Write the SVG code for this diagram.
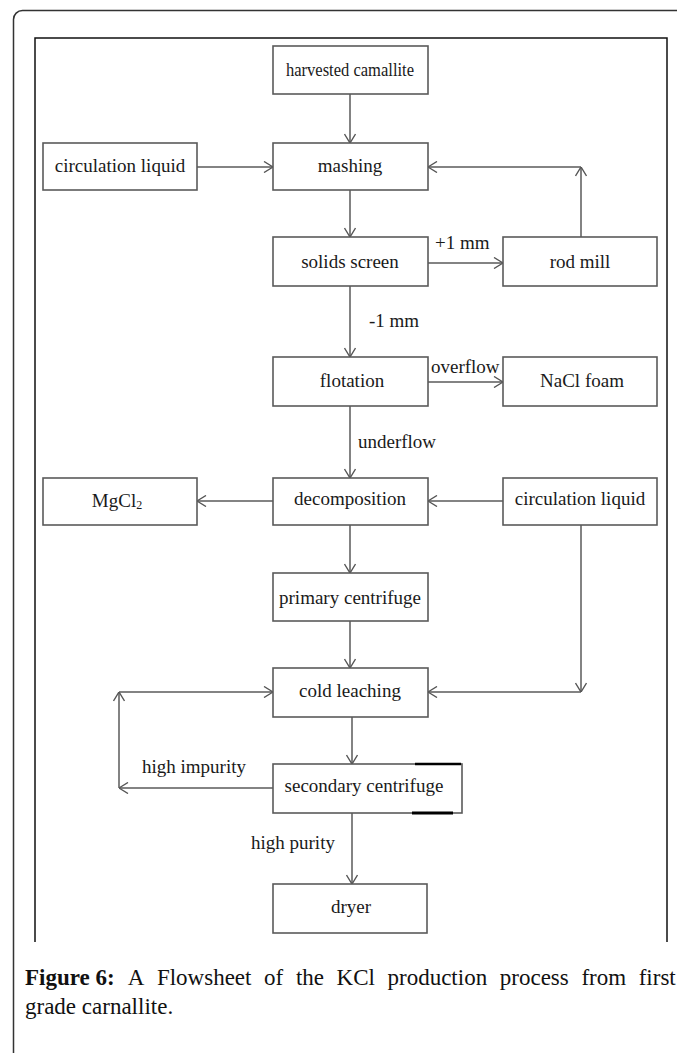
<svg xmlns="http://www.w3.org/2000/svg" width="677" height="1053" viewBox="0 0 677 1053">
<defs>
<marker id="a" viewBox="0 0 10 12" refX="10" refY="6" markerWidth="10" markerHeight="12" orient="auto" markerUnits="userSpaceOnUse">
<path d="M1,0.5 L10,6 L1,11.5" fill="none" stroke="#555" stroke-width="1.4"/>
</marker>
<style>
.box{fill:#fff;stroke:#5a5a5a;stroke-width:1.6}
.t{font-family:"Liberation Serif","Times New Roman",serif;font-size:19px;fill:#1a1a1a;text-anchor:middle}
.l{font-family:"Liberation Serif","Times New Roman",serif;font-size:19px;fill:#1a1a1a}
.c{fill:none;stroke:#5a5a5a;stroke-width:1.5;marker-end:url(#a)}
.cap{font-family:"Liberation Serif","Times New Roman",serif;font-size:23px;fill:#111}
</style>
</defs>
<rect width="677" height="1053" fill="#fff"/>
<rect x="13.5" y="10.5" width="720" height="1100" rx="9" fill="none" stroke="#333" stroke-width="1.5"/>
<path d="M35,942 V38 H667 V942" fill="none" stroke="#111" stroke-width="1.5"/>

<g id="connectors">
<line class="c" x1="350" y1="94" x2="350" y2="143"/>
<line class="c" x1="197" y1="167" x2="273" y2="167"/>
<line class="c" x1="581" y1="237" x2="581" y2="167"/>
<line class="c" x1="581" y1="167" x2="428" y2="167"/>
<line class="c" x1="350" y1="190" x2="350" y2="237"/>
<line class="c" x1="428" y1="263" x2="503" y2="263"/>
<line class="c" x1="350" y1="286" x2="350" y2="357"/>
<line class="c" x1="428" y1="382" x2="503" y2="382"/>
<line class="c" x1="350" y1="406" x2="350" y2="478"/>
<line class="c" x1="273" y1="501" x2="197" y2="501"/>
<line class="c" x1="503" y1="501" x2="428" y2="501"/>
<line class="c" x1="350" y1="525" x2="350" y2="573"/>
<line class="c" x1="350" y1="621" x2="350" y2="668"/>
<line class="c" x1="581" y1="525" x2="581" y2="692"/>
<line class="c" x1="581" y1="692" x2="428" y2="692"/>
<line class="c" x1="352" y1="717" x2="352" y2="764"/>
<line class="c" x1="273" y1="788" x2="119" y2="788"/>
<line class="c" x1="119" y1="788" x2="119" y2="692"/>
<line class="c" x1="119" y1="692" x2="273" y2="692"/>
<line class="c" x1="352" y1="813" x2="352" y2="884"/>
<text class="l" x="435" y="249">+1 mm</text>
<text class="l" x="369" y="327">-1 mm</text>
<text class="l" x="431" y="373">overflow</text>
<text class="l" x="358" y="448">underflow</text>
<text class="l" x="142" y="773">high impurity</text>
<text class="l" x="251" y="849">high purity</text>
</g>

<g id="harvested"><rect class="box" x="273" y="46" width="155" height="48"/><text class="t" x="350" y="76" style="font-size:18px" textLength="128" lengthAdjust="spacingAndGlyphs">harvested camallite</text></g>
<g id="circ1"><rect class="box" x="43" y="143" width="154" height="47"/><text class="t" x="120" y="172">circulation liquid</text></g>
<g id="mashing"><rect class="box" x="273" y="143" width="155" height="47"/><text class="t" x="350" y="172">mashing</text></g>
<g id="screen"><rect class="box" x="273" y="237" width="155" height="49"/><text class="t" x="350" y="268">solids screen</text></g>
<g id="rodmill"><rect class="box" x="503" y="237" width="154" height="49"/><text class="t" x="580" y="268">rod mill</text></g>
<g id="flotation"><rect class="box" x="273" y="357" width="155" height="49"/><text class="t" x="352" y="387">flotation</text></g>
<g id="nacl"><rect class="box" x="503" y="357" width="154" height="49"/><text class="t" x="582" y="387">NaCl foam</text></g>
<g id="mgcl"><rect class="box" x="43" y="478" width="154" height="47"/><text class="t" x="117" y="507">MgCl<tspan style="font-size:12px" dy="2">2</tspan></text></g>
<g id="decomp"><rect class="box" x="273" y="478" width="155" height="47"/><text class="t" x="350" y="505">decomposition</text></g>
<g id="circ2"><rect class="box" x="503" y="478" width="154" height="47"/><text class="t" x="580" y="505">circulation liquid</text></g>
<g id="primary"><rect class="box" x="273" y="573" width="155" height="48"/><text class="t" x="350" y="604">primary centrifuge</text></g>
<g id="cold"><rect class="box" x="273" y="668" width="155" height="49"/><text class="t" x="350" y="697">cold leaching</text></g>
<g id="secondary"><rect class="box" x="273" y="764" width="189" height="49"/><text class="t" x="364" y="792">secondary centrifuge</text>
<line x1="415" y1="764" x2="461" y2="764" stroke="#000" stroke-width="2.5"/><line x1="412" y1="813" x2="453" y2="813" stroke="#000" stroke-width="3"/></g>
<g id="dryer"><rect class="box" x="273" y="884" width="154" height="49"/><text class="t" x="351" y="913">dryer</text></g>

<g id="caption">
<text class="cap" y="985"><tspan x="25" font-weight="bold">Figure 6:</tspan><tspan x="127.7">A</tspan><tspan x="156.9">Flowsheet</tspan><tspan x="264.1">of</tspan><tspan x="295.9">the</tspan><tspan x="336.6">KCl</tspan><tspan x="387.5">production</tspan><tspan x="499.8">process</tspan><tspan x="581.4">from</tspan><tspan x="638.7">first</tspan></text>
<text class="cap" x="25" y="1014">grade carnallite.</text>
</g>
</svg>
